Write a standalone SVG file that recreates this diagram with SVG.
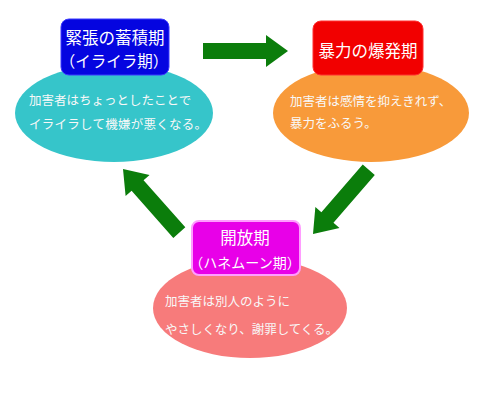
<svg xmlns="http://www.w3.org/2000/svg" width="480" height="409" viewBox="0 0 480 409">
<style>
text{font-family:"Noto Sans CJK JP","Noto Sans CJK SC",sans-serif;fill:#ffffff}
.title{font-size:16.5px;text-anchor:middle}
.sub{font-size:15.5px;text-anchor:middle}
.body{font-size:12.5px;fill:#f8f8f8}
.arrow{fill:#0b7d0b}
</style>
<defs>
<polygon id="arr" points="-85,-8 -22,-8 -22,-16 0,0 -22,16 -22,8 -85,8"/>
</defs>
<rect width="480" height="409" fill="#ffffff"/>
<g id="connectors">
<use href="#arr" class="arrow" transform="translate(288,51)"/>
<use href="#arr" class="arrow" transform="translate(313,234) rotate(131)"/>
<use href="#arr" class="arrow" transform="translate(123,169) rotate(228.5)"/>
</g>
<g id="node-tension">
<ellipse cx="114" cy="113" rx="99" ry="49" fill="#36c5ca"/>
<rect x="61" y="19" width="108" height="56" rx="8" fill="#0505e0" stroke="#3a3aff" stroke-width="1"/>
<text class="title" x="115" y="44">緊張の蓄積期</text>
<text class="sub" x="114" y="67">（イライラ期）</text>
<text class="body" x="29" y="105">加害者はちょっとしたことで</text>
<text class="body" x="29" y="129" textLength="178">イライラして機嫌が悪くなる。</text>
</g>
<g id="node-explosion">
<ellipse cx="371" cy="113" rx="98" ry="49" fill="#f89a3a"/>
<rect x="313" y="21" width="110" height="54" rx="8" fill="#f20000" stroke="#ff3030" stroke-width="1"/>
<text class="title" x="368" y="57">暴力の爆発期</text>
<text class="body" x="290" y="106">加害者は感情を抑えきれず、</text>
<text class="body" x="290" y="128">暴力をふるう。</text>
</g>
<g id="node-honeymoon">
<ellipse cx="250" cy="308" rx="97" ry="50" fill="#f77b7b"/>
<rect x="192" y="221" width="108" height="54" rx="7" fill="#e800e8" stroke="#ff9cff" stroke-width="2"/>
<text class="title" x="245" y="244">開放期</text>
<text class="sub" x="245" y="268" style="font-size:14px">（ハネムーン期）</text>
<text class="body" x="165" y="306">加害者は別人のように</text>
<text class="body" x="165" y="334" textLength="173">やさしくなり、謝罪してくる。</text>
</g>
</svg>
